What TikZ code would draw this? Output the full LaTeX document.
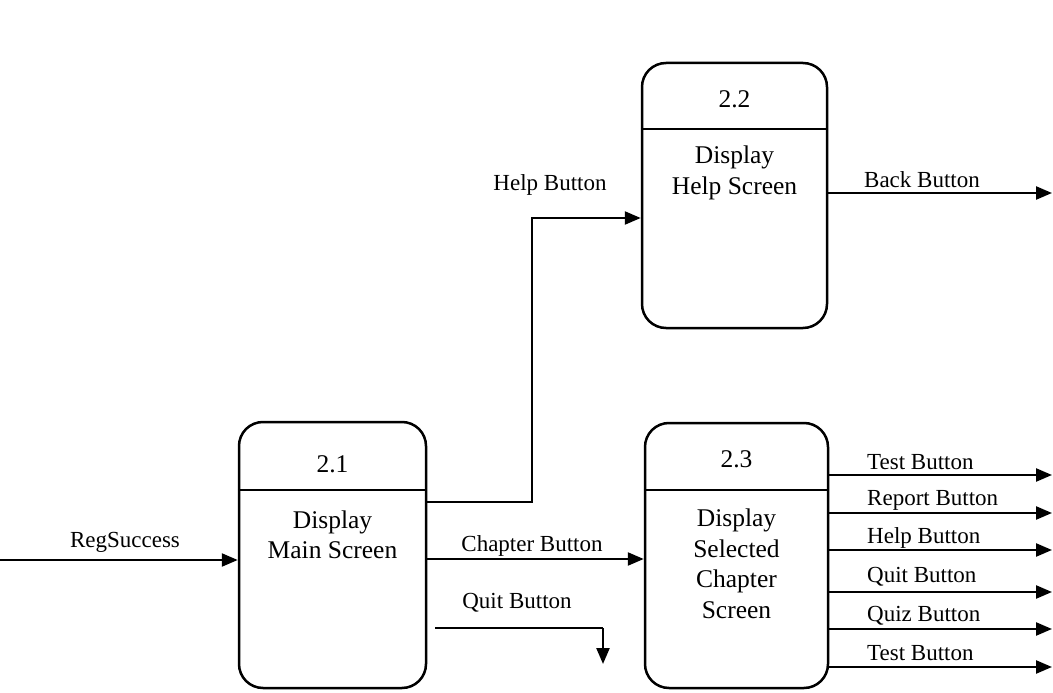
\documentclass[tikz,border=0pt]{standalone}
\usepackage{fontspec}
\setmainfont{Liberation Serif}
\usetikzlibrary{arrows.meta,calc}
\begin{document}
\begin{tikzpicture}[x=1pt,y=-1pt,
  procbox/.style={draw,line width=2.5pt,rounded corners=24pt,inner sep=0pt},
  divider/.style={line width=2.4pt},
  flow/.style={line width=2.4pt,-{Triangle[length=16pt,width=13pt]}},
  plainline/.style={line width=2.4pt},
  numtext/.style={font=\fontsize{25.5}{30}\selectfont,inner sep=0pt},
  boxtext/.style={font=\fontsize{25.5}{30.5}\selectfont,align=center,inner sep=0pt},
  lbl/.style={font=\fontsize{23}{27}\selectfont,inner sep=0pt},
]
\useasboundingbox (0,0) rectangle (1053,693);

% process boxes
\node[procbox,minimum width=187pt,minimum height=266pt] (b21) at (332.5,555) {};
\node[procbox,minimum width=185pt,minimum height=265pt] (b22) at (734.5,195.5) {};
\node[procbox,minimum width=183pt,minimum height=265pt] (b23) at (736.5,555.5) {};

% header dividers
\draw[divider] ($(b21.north west)+(0,69)$) -- ($(b21.north east)+(0,69)$);
\draw[divider] ($(b22.north west)+(0,67)$) -- ($(b22.north east)+(0,67)$);
\draw[divider] ($(b23.north west)+(0,68)$) -- ($(b23.north east)+(0,68)$);

% process numbers
\node[numtext] (n21) at ($(b21.north)+(0,43)$) {2.1};
\node[numtext] (n22) at ($(b22.north)+(0,37)$) {2.2};
\node[numtext] (n23) at ($(b23.north)+(0,37)$) {2.3};

% process names
\node[boxtext] (t21) at ($(b21.north)+(0,114)$) {Display\\Main Screen};
\node[boxtext] (t22) at ($(b22.north)+(0,111)$) {Display\\Help Screen};
\node[boxtext] (t23) at ($(b23.north)+(0,142)$) {Display\\Selected\\Chapter\\Screen};

% connector levels
\coordinate (regin) at (0,560);
\coordinate (helpy) at (532,502);
\coordinate (help2) at (532,218);
\coordinate (chapy) at (0,559);
\coordinate (quit0) at (435,628);
\coordinate (quit1) at (603,628);
\coordinate (quit2) at (603,664);
\coordinate (backend) at (1052,193);
\coordinate (o1) at (1052,475);
\coordinate (o2) at (1052,513);
\coordinate (o3) at (1052,550);
\coordinate (o4) at (1052,592);
\coordinate (o5) at (1052,629);
\coordinate (o6) at (1052,667);

% flows into and out of 2.1
\draw[flow] (regin) -- (regin -| b21.west);
\draw[flow] (helpy -| b21.east) -- (helpy) -- (help2) -- (help2 -| b22.west);
\draw[flow] (chapy -| b21.east) -- (chapy -| b23.west);
\draw[plainline] (quit0) -- (quit1);
\draw[flow] (quit1) -- (quit2);

% flow out of 2.2
\draw[flow] (backend -| b22.east) -- (backend);

% flows out of 2.3
\foreach \o in {o1,o2,o3,o4,o5,o6}
  \draw[flow] (\o -| b23.east) -- (\o);

% flow labels
\node[lbl] (lreg) at (125,542) {RegSuccess};
\node[lbl] (lhelp) at (550,185) {Help Button};
\node[lbl] (lback) at (922,180) {Back Button};
\node[lbl] (lchap) at (532,546) {Chapter Button};
\node[lbl] (lquit) at (517,603) {Quit Button};
\node[lbl,anchor=west] (l1) at (867,462) {Test Button};
\node[lbl,anchor=west] (l2) at (867,500) {Report Button};
\node[lbl,anchor=west] (l3) at (867,538) {Help Button};
\node[lbl,anchor=west] (l4) at (867,577) {Quit Button};
\node[lbl,anchor=west] (l5) at (867,616) {Quiz Button};
\node[lbl,anchor=west] (l6) at (867,653) {Test Button};
\end{tikzpicture}
\end{document}
